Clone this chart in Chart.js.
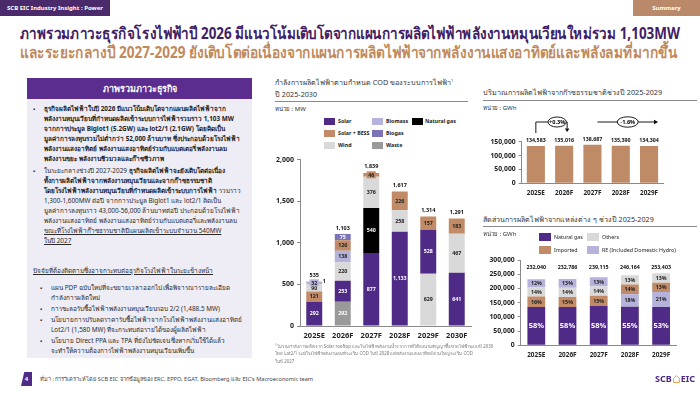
<!DOCTYPE html>
<html><head><meta charset="utf-8">
<script src="https://cdn.jsdelivr.net/npm/chart.js@4.4.0/dist/chart.umd.min.js"></script>
<style>
html,body{margin:0;padding:0;}
body{width:700px;height:394px;overflow:hidden;background:#fff;position:relative;font-family:'Noto Sans',sans-serif;color:#222;}
.abs{position:absolute;white-space:nowrap;}
.fit{display:inline-block;transform-origin:left center;}
#hdrL{left:0;top:0;width:110px;height:16px;background:#4a2a6a;color:#fff;font-size:6px;font-weight:bold;line-height:16px;padding-left:7px;box-sizing:border-box;}
#hdrR{left:633px;top:0;width:67px;height:16px;background:#b9896a;color:#fff;font-size:6px;font-weight:bold;line-height:16px;text-align:center;}
.t1{left:20px;top:23px;font-size:16px;font-weight:bold;color:#3f2163;line-height:20px;}
.t2{left:20px;top:42px;font-size:16px;font-weight:bold;color:#c08a5c;line-height:20px;}
#panel{left:27px;top:78px;width:225px;height:280px;background:#eeedf5;}
#panelHdr{left:27px;top:78px;width:225px;height:21px;background:#5b2d8f;color:#fff;font-size:9px;font-weight:bold;text-align:center;line-height:21px;}
.blk{left:33px;font-size:6.4px;line-height:10px;color:#2a2a2a;}
.ln{position:relative;padding-left:11px;height:10px;}
.mk{position:absolute;left:0;top:0;font-size:6px;}
.bd{font-weight:bold;color:#1e1e1e;}
.ul{text-decoration:underline;}
.ctitle{font-size:7.2px;color:#333;line-height:12px;}
.unit{font-size:6px;color:#333;}
.hline{position:absolute;height:1px;background:#8a8a8a;}
.lg{position:absolute;font-size:5.3px;font-weight:bold;color:#222;line-height:7px;white-space:nowrap;}
.sw{position:absolute;}
.note{font-size:4.4px;color:#777;line-height:8px;}
</style></head><body>

<div id="hdrL" class="abs">SCB EIC Industry Insight : Power</div>
<div id="hdrR" class="abs">Summary</div>

<div class="abs t1"><span class="fit" data-w="660">ภาพรวมภาวะธุรกิจโรงไฟฟ้าปี 2026 มีแนวโน้มเติบโตจากแผนการผลิตไฟฟ้าพลังงานหมุนเวียนใหม่รวม 1,103MW</span></div>
<div class="abs t2"><span class="fit" data-w="657">และระยะกลางปี 2027-2029 ยังเติบโตต่อเนื่องจากแผนการผลิตไฟฟ้าจากพลังงานแสงอาทิตย์และพลังลมที่มากขึ้น</span></div>

<div id="panel" class="abs"></div>
<div id="panelHdr" class="abs">ภาพรวมภาวะธุรกิจ</div>

<div class="abs blk" style="top:104px;">
<div class="ln bd"><span class="mk">▪</span>ธุรกิจผลิตไฟฟ้าในปี 2026 มีแนวโน้มเติบโตจากแผนผลิตไฟฟ้าจาก</div>
<div class="ln bd">พลังงานหมุนเวียนที่กำหนดผลิตเข้าระบบการไฟฟ้ารวมราว 1,103 MW</div>
<div class="ln bd">จากการประมูล Biglot1 (5.2GW) และ lot2/1 (2.1GW) โดยคิดเป็น</div>
<div class="ln bd">มูลค่าการลงทุนรวมไม่ต่ำกว่า 52,000 ล้านบาท ซึ่งประกอบด้วยโรงไฟฟ้า</div>
<div class="ln bd">พลังงานแสงอาทิตย์ พลังงานแสงอาทิตย์ร่วมกับแบตเตอรี่ พลังงานลม</div>
<div class="ln bd">พลังงานขยะ พลังงานชีวมวลและก๊าซชีวภาพ</div>
</div>
<div class="abs blk" style="top:166px;">
<div class="ln"><span class="mk">▪</span>ในระยะกลางช่วงปี 2027-2029 <span class="bd">ธุรกิจผลิตไฟฟ้าจะยังเติบโตต่อเนื่อง</span></div>
<div class="ln bd">ทั้งการผลิตไฟฟ้าจากพลังงานหมุนเวียนและจากก๊าซธรรมชาติ</div>
<div class="ln"><span class="bd">โดยโรงไฟฟ้าพลังงานหมุนเวียนที่กำหนดผลิตเข้าระบบการไฟฟ้า</span> รวมราว</div>
<div class="ln">1,300-1,600MW ต่อปี จากการประมูล Biglot1 และ lot2/1 คิดเป็น</div>
<div class="ln">มูลค่าการลงทุนราว 43,000-56,000 ล้านบาทต่อปี ประกอบด้วยโรงไฟฟ้า</div>
<div class="ln">พลังงานแสงอาทิตย์ พลังงานแสงอาทิตย์ร่วมกับแบตเตอรี่และพลังงานลม</div>
<div class="ln ul">ขณะที่โรงไฟฟ้าก๊าซธรรมชาติมีแผนผลิตเข้าระบบจำนวน 540MW</div>
<div class="ln ul">ในปี 2027</div>
</div>
<div class="abs blk" style="top:266px;left:33px;">
<div class="ln ul" style="padding-left:0;">ปัจจัยที่ต้องติดตามซึ่งอาจกระทบต่อธุรกิจโรงไฟฟ้าในระยะข้างหน้า</div>
</div>
<div class="abs blk" style="top:283px;left:40px;">
<div class="ln"><span class="mk">▪</span>แผน PDP ฉบับใหม่ที่จะขยายเวลาออกไป เพื่อพิจารณารายละเอียด</div>
<div class="ln" style="margin-bottom:1px;">กำลังการผลิตใหม่</div>
<div class="ln" style="margin-bottom:1px;"><span class="mk">▪</span>การชะลอรับซื้อไฟฟ้าพลังงานหมุนเวียนรอบ 2/2 (1,488.5 MW)</div>
<div class="ln"><span class="mk">▪</span>นโยบายการปรับลดราคารับซื้อไฟฟ้าจากโรงไฟฟ้าพลังงานแสงอาทิตย์</div>
<div class="ln" style="margin-bottom:1px;">Lot2/1 (1,580 MW) ที่จะกระทบต่อรายได้ของผู้ผลิตไฟฟ้า</div>
<div class="ln"><span class="mk">▪</span>นโยบาย Direct PPA และ TPA ที่ยังไม่ชัดเจน ซึ่งหากเริ่มใช้ได้แล้ว</div>
<div class="ln">จะทำให้ความต้องการไฟฟ้าพลังงานหมุนเวียนเพิ่มขึ้น</div>
</div>

<!-- middle chart titles -->
<div class="abs ctitle" style="left:275px;top:75px;">กำลังการผลิตไฟฟ้าตามกำหนด COD ของระบบการไฟฟ้า<sup style="font-size:4px;">1</sup></div>
<div class="abs ctitle" style="left:275px;top:88px;">ปี 2025-2030</div>
<div class="hline" style="left:275px;top:101px;width:193px;"></div>
<div class="abs unit" style="left:275px;top:104px;">หน่วย : MW</div>

<div class="sw" style="left:324px;top:118px;width:11px;height:7px;background:#4f2a86;"></div><div class="lg" style="left:338px;top:118px;">Solar</div>
<div class="sw" style="left:372px;top:118px;width:11px;height:7px;background:#b5b3dc;"></div><div class="lg" style="left:386px;top:118px;">Biomass</div>
<div class="sw" style="left:412px;top:118px;width:11px;height:7px;background:#000;"></div><div class="lg" style="left:425px;top:118px;">Natural gas</div>
<div class="sw" style="left:324px;top:130px;width:11px;height:7px;background:#c08b66;"></div><div class="lg" style="left:338px;top:130px;">Solar + BESS</div>
<div class="sw" style="left:372px;top:130px;width:11px;height:7px;background:#7c73b9;"></div><div class="lg" style="left:386px;top:130px;">Biogas</div>
<div class="sw" style="left:324px;top:142px;width:11px;height:7px;background:#d9d9d9;"></div><div class="lg" style="left:338px;top:142px;">Wind</div>
<div class="sw" style="left:372px;top:142px;width:11px;height:7px;background:#9a9a9a;"></div><div class="lg" style="left:386px;top:142px;">Waste</div>

<canvas id="codChart" width="208" height="195" style="position:absolute;left:270px;top:150px;"></canvas>

<div class="abs note" style="left:275px;top:341px;"><sup style="font-size:3px;">1</sup>ไม่รวมกำลังการผลิตจาก Solar rooftop และโรงไฟฟ้าพลังงานน้ำจากการที่ได้ลงนามสัญญาซื้อขายไฟฟ้าระบบปี 2030</div>
<div class="abs note" style="left:275px;top:349px;">โดย Lot2/1 จะมีโรงไฟฟ้าพลังงานลมที่จะเริ่ม COD ในปี 2028 แต่พลังงานแสงอาทิตย์ส่วนใหญ่จะเริ่ม COD</div>
<div class="abs note" style="left:275px;top:357px;">ในปี 2027</div>

<!-- gas chart titles -->
<div class="abs ctitle" style="left:483px;top:86px;">ปริมาณการผลิตไฟฟ้าจากก๊าซธรรมชาติช่วงปี 2025-2029</div>
<div class="hline" style="left:483px;top:100px;width:214px;"></div>
<div class="abs unit" style="left:483px;top:103px;">หน่วย : GWh</div>
<canvas id="gasChart" width="220" height="92" style="position:absolute;left:480px;top:110px;"></canvas>

<!-- mix chart titles -->
<div class="abs ctitle" style="left:483px;top:213px;">สัดส่วนการผลิตไฟฟ้าจากแหล่งต่าง ๆ ช่วงปี 2025-2029</div>
<div class="hline" style="left:483px;top:226px;width:214px;"></div>
<div class="abs unit" style="left:483px;top:229px;">หน่วย : GWh</div>
<div class="sw" style="left:539px;top:233px;width:12px;height:8px;background:#4f2a86;"></div><div class="lg" style="left:554px;top:234px;font-weight:normal;">Natural gas</div>
<div class="sw" style="left:587px;top:233px;width:12px;height:8px;background:#d9d9d9;"></div><div class="lg" style="left:602px;top:234px;font-weight:normal;">Others</div>
<div class="sw" style="left:539px;top:246px;width:12px;height:8px;background:#c08b66;"></div><div class="lg" style="left:554px;top:247px;font-weight:normal;">Imported</div>
<div class="sw" style="left:587px;top:246px;width:12px;height:8px;background:#b5b3dc;"></div><div class="lg" style="left:602px;top:247px;font-weight:normal;">RE (Included Domestic Hydro)</div>
<canvas id="mixChart" width="220" height="112" style="position:absolute;left:480px;top:250px;"></canvas>

<!-- footer -->
<div class="abs" style="left:21px;top:372px;width:11px;height:14px;background:#4f2a86;clip-path:polygon(30% 0,100% 0,100% 100%,0 100%);color:#fff;font-size:6px;font-weight:bold;text-align:center;line-height:14px;">4</div>
<div class="abs" style="left:40px;top:375px;font-size:5.6px;color:#444;line-height:8px;">ที่มา : การวิเคราะห์โดย SCB EIC จากข้อมูลของ ERC, EPPO, EGAT, Bloomberg และ EIC's Macroeconomic team</div>
<div class="abs" style="left:655px;top:373px;font-size:9px;font-weight:bold;color:#4f2a86;line-height:12px;">SCB<svg width="7" height="8" viewBox="0 0 7 8" style="margin:0 1px;vertical-align:-1px;"><path d="M0.6 7.4 V3.4 L3.5 0.8 L6.4 3.4 V7.4 Z" fill="none" stroke="#e8a040" stroke-width="1"/></svg>EIC</div>

<script>
// ===== DATA =====
const codYears = ['2025E','2026F','2027F','2028F','2029F','2030F'];
const codWasteLow      = [0, 292, 0, 0, 0, 0];
const codWindLow       = [0, 0, 0, 0, 629, 0];
const codSolar         = [292, 253, 877, 1133, 528, 641];
const codSolarBessLow  = [121, 0, 0, 0, 0, 0];
const codNaturalGas    = [0, 0, 540, 0, 0, 0];
const codWind          = [90, 220, 376, 258, 0, 467];
const codBiomass       = [32, 138, 0, 0, 0, 0];
const codSolarBess     = [0, 126, 46, 226, 157, 183];
const codBiogas        = [0, 75, 0, 0, 0, 0];
const codWasteTop      = [1, 0, 0, 0, 0, 0];
const codTotals        = ['535', '1,103', '1,839', '1,617', '1,314', '1,291'];
const codTicks         = [0, 500, 1000, 1500, 2000];

const gasYears = ['2025E','2026F','2027F','2028F','2029F'];
const gasGWh   = [134583, 135016, 138687, 135390, 134304];
const gasGrowth = ['+0.3%', '-1.6%'];
const gasTicks = [0, 50000, 100000, 150000];

const mixYears      = ['2025E','2026F','2027F','2028F','2029F'];
const mixNaturalGas = [134583, 135016, 138687, 135390, 134304];
const mixRELow      = [0, 0, 0, 44300, 53200];
const mixImported   = [37100, 34900, 35900, 34500, 32900];
const mixOthers     = [32500, 32600, 33500, 31974, 32999];
const mixREHigh     = [27857, 30270, 31028, 0, 0];
const mixTotals     = [232040, 232786, 239115, 246164, 253403];
const mixPctNG      = ['58%','58%','58%','55%','53%'];
const mixPctRELow   = ['','','','18%','21%'];
const mixPctImported= ['16%','15%','15%','14%','13%'];
const mixPctOthers  = ['14%','14%','14%','13%','13%'];
const mixPctREHigh  = ['12%','13%','13%','',''];
const mixTicks      = [0, 50000, 100000, 150000, 200000, 250000, 300000];

// ===== STYLE =====
const COL = {solar:'#4f2a86', bess:'#c08b66', wind:'#d9d9d9', biomass:'#b5b3dc', biogas:'#7c73b9', gas:'#000000', waste:'#9a9a9a', gasBar:'#bf8b66'};
const FONT = "'Noto Sans', sans-serif";
Chart.defaults.font.family = FONT;
const fmt = v => v.toLocaleString('en-US');

// segment labels plugin
const segLabels = {
  id: 'segLabels',
  afterDatasetsDraw(chart) {
    const ctx = chart.ctx;
    chart.data.datasets.forEach((ds, i) => {
      const meta = chart.getDatasetMeta(i);
      meta.data.forEach((el, j) => {
        const v = ds.data[j];
        if (!v) return;
        const t = ds.segText ? ds.segText[j] : fmt(v);
        if (!t) return;
        const h = Math.abs(el.base - el.y);
        ctx.save();
        ctx.font = (ds.segWeight || 'bold') + ' ' + (ds.segSize || 5.3) + 'px ' + FONT;
        ctx.textAlign = 'center'; ctx.textBaseline = 'middle';
        let x = el.x + (ds.segDx || 0), y = (el.y + el.base) / 2;
        if (ds.segBox && h < 7) {
          const w = ctx.measureText(t).width + 3;
          ctx.fillStyle = ds.backgroundColor;
          ctx.fillRect(x - w / 2, y - 3.5, w, 7);
        }
        ctx.fillStyle = ds.segColor || '#222';
        ctx.fillText(t, x, y + 0.3);
        ctx.restore();
      });
    });
    const o = chart.options.plugins.totals;
    if (o) {
      const ctx2 = chart.ctx;
      ctx2.save();
      ctx2.font = 'bold ' + o.size + 'px ' + FONT;
      ctx2.fillStyle = '#111'; ctx2.textAlign = 'center'; ctx2.textBaseline = 'middle';
      o.values.forEach((t, j) => {
        let top = Infinity, x = 0;
        chart.data.datasets.forEach((ds, i) => {
          if (!ds.data[j]) return;
          const el = chart.getDatasetMeta(i).data[j];
          top = Math.min(top, el.y); x = el.x;
        });
        const y = o.fixedValue !== undefined ? chart.scales.y.getPixelForValue(o.fixedValue) : top - o.offset;
        ctx2.fillText(typeof t === 'number' ? fmt(t) : t, x, y);
      });
      ctx2.restore();
    }
  }
};

function bar(label, data, color, opts) {
  return Object.assign({label, data, backgroundColor: color, barPercentage: 0.56, categoryPercentage: 1, borderWidth: 0}, opts || {});
}

function yScale(max, ticks, w, size) {
  return {
    stacked: true, min: 0, max: max,
    afterBuildTicks: a => { a.ticks = ticks.map(v => ({value: v})); },
    ticks: {font: {weight: 'bold', size: size}, color: '#222', padding: 3, callback: v => fmt(v)},
    grid: {drawOnChartArea: false, tickLength: 3, color: '#8a8a8a'},
    border: {color: '#8a8a8a'},
    afterFit: a => { a.width = w; }
  };
}
function xScale(h, size, pad) {
  return {
    stacked: true,
    grid: {display: false, drawTicks: false, tickLength: 0},
    border: {color: '#8a8a8a'},
    ticks: {font: {weight: 'bold', size: size}, color: '#222', padding: pad, maxRotation: 0},
    afterFit: a => { a.height = h; }
  };
}

// ===== CHART 1: COD capacity =====
new Chart(document.getElementById('codChart'), {
  type: 'bar',
  data: {labels: codYears, datasets: [
    bar('Waste', codWasteLow, COL.waste, {segColor: '#fff'}),
    bar('Wind', codWindLow, COL.wind),
    bar('Solar', codSolar, COL.solar, {segColor: '#fff'}),
    bar('Solar + BESS', codSolarBessLow, COL.bess),
    bar('Natural gas', codNaturalGas, COL.gas, {segColor: '#fff'}),
    bar('Wind', codWind, COL.wind),
    bar('Biomass', codBiomass, COL.biomass, {segBox: true}),
    bar('Solar + BESS', codSolarBess, COL.bess, {segBox: true}),
    bar('Biogas', codBiogas, COL.biogas, {segColor: '#fff'}),
    bar('Waste', codWasteTop, COL.waste, {segDx: 10, segColor: '#111'})
  ]},
  options: {
    responsive: false, animation: false,
    layout: {padding: {top: 9.5, right: 7, left: 0, bottom: 0}},
    plugins: {legend: {display: false}, tooltip: {enabled: false}, totals: {values: codTotals, size: 5.5, offset: 6}},
    scales: {x: xScale(19, 7.5, 5), y: yScale(2000, codTicks, 30, 7)}
  },
  plugins: [segLabels]
});

// ===== CHART 2: gas generation =====
const gasAnnot = {
  id: 'gasAnnot',
  afterDraw(chart) {
    const ctx = chart.ctx, xs = chart.scales.x;
    const x0 = xs.getPixelForValue(0), x1 = xs.getPixelForValue(1), x2 = xs.getPixelForValue(2), x3 = xs.getPixelForValue(3), x4 = xs.getPixelForValue(4);
    const yL = 12;  // relative to canvas top (110)
    ctx.save();
    ctx.strokeStyle = '#000'; ctx.fillStyle = '#000'; ctx.lineWidth = 0.9;
    const e1x = x1 - 7, e2x = x3 + 7;
    ctx.beginPath();
    ctx.moveTo(x0, 23); ctx.lineTo(x0, yL); ctx.lineTo(e1x - 9.2, yL);
    ctx.moveTo(e1x + 9.2, yL); ctx.lineTo(x1 + 3, yL); ctx.lineTo(x1 + 3, 18.5);
    ctx.stroke();
    ctx.beginPath(); ctx.moveTo(x1 + 0.8, 18.5); ctx.lineTo(x1 + 5.2, 18.5); ctx.lineTo(x1 + 3, 22); ctx.closePath(); ctx.fill();
    ctx.beginPath(); ctx.ellipse(e1x, yL, 9.2, 5, 0, 0, Math.PI * 2); ctx.stroke();
    ctx.beginPath();
    ctx.moveTo(x2 + 5, yL); ctx.lineTo(e2x - 10.5, yL);
    ctx.moveTo(e2x + 10.5, yL); ctx.lineTo(x4 + 5, yL);
    ctx.stroke();
    ctx.beginPath(); ctx.moveTo(x4 + 5, yL - 2.3); ctx.lineTo(x4 + 9, yL); ctx.lineTo(x4 + 5, yL + 2.3); ctx.closePath(); ctx.fill();
    ctx.beginPath(); ctx.ellipse(e2x, yL, 10.5, 5.2, 0, 0, Math.PI * 2); ctx.stroke();
    ctx.font = 'bold 5.6px ' + FONT; ctx.textAlign = 'center'; ctx.textBaseline = 'middle';
    ctx.fillText(gasGrowth[0], e1x, yL + 0.3);
    ctx.fillText(gasGrowth[1], e2x, yL + 0.3);
    ctx.restore();
  }
};
new Chart(document.getElementById('gasChart'), {
  type: 'bar',
  data: {labels: gasYears, datasets: [
    bar('Natural gas', gasGWh, COL.gasBar, {barPercentage: 0.64, segText: ['', '', '', '', '']})
  ]},
  options: {
    responsive: false, animation: false,
    layout: {padding: {top: 31.7, right: 36.8, left: 0, bottom: 0}},
    plugins: {legend: {display: false}, tooltip: {enabled: false}, totals: {values: gasGWh, size: 5.3, offset: 5.5}},
    scales: {x: xScale(18.7, 6.4, 6), y: yScale(150000, gasTicks, 41.7, 6.8)}
  },
  plugins: [segLabels, gasAnnot]
});

// ===== CHART 3: generation mix =====
const mixOpt = {barPercentage: 0.57};
new Chart(document.getElementById('mixChart'), {
  type: 'bar',
  data: {labels: mixYears, datasets: [
    bar('Natural gas', mixNaturalGas, COL.solar, Object.assign({segText: mixPctNG, segColor: '#fff', segSize: 7.5, segWeight: 'bold'}, mixOpt)),
    bar('RE (Included Domestic Hydro)', mixRELow, COL.biomass, Object.assign({segText: mixPctRELow}, mixOpt)),
    bar('Imported', mixImported, COL.bess, Object.assign({segText: mixPctImported}, mixOpt)),
    bar('Others', mixOthers, COL.wind, Object.assign({segText: mixPctOthers}, mixOpt)),
    bar('RE (Included Domestic Hydro)', mixREHigh, COL.biomass, Object.assign({segText: mixPctREHigh}, mixOpt))
  ]},
  options: {
    responsive: false, animation: false,
    layout: {padding: {top: 10, right: 23.3, left: 0, bottom: 0}},
    plugins: {legend: {display: false}, tooltip: {enabled: false}, totals: {values: mixTotals, size: 5.3, fixedValue: 275000}},
    scales: {x: xScale(16.7, 6.4, 6), y: yScale(300000, mixTicks, 40.7, 6.8)}
  },
  plugins: [segLabels]
});

// fit text widths
document.querySelectorAll('[data-w]').forEach(el => {
  const w = el.getBoundingClientRect().width, t = +el.dataset.w;
  if (w > 0) el.style.transform = 'scaleX(' + (t / w) + ')';
});
</script>
</body></html>
